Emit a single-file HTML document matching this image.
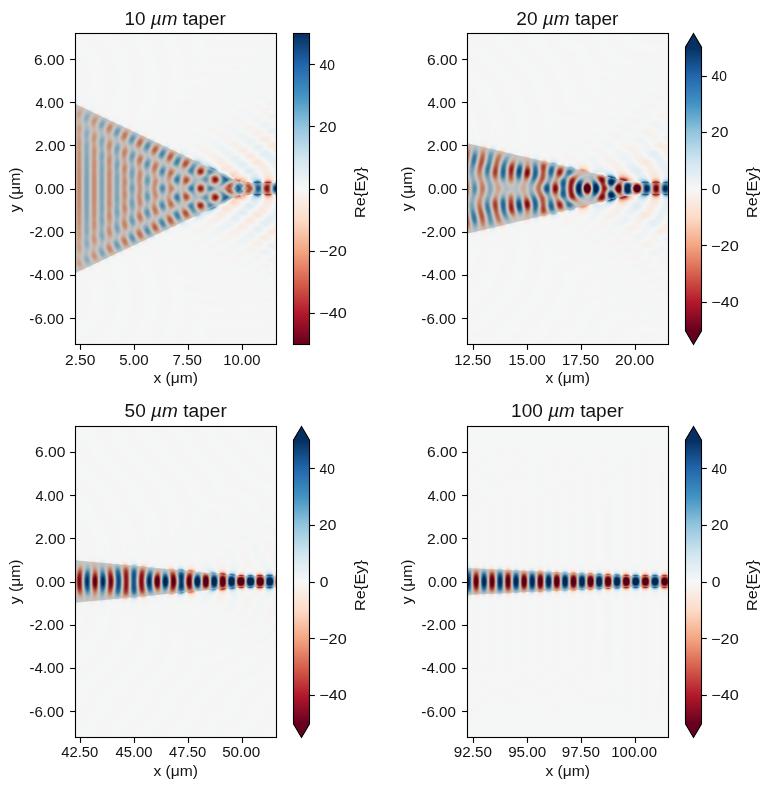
<!DOCTYPE html><html><head><meta charset="utf-8"><title>Taper field plots</title><style>html,body{margin:0;padding:0;background:#fff;}#fig{position:relative;width:769px;height:790px;overflow:hidden;background:#fff}#fig svg,#fig canvas{position:absolute;left:0;top:0}text{font-family:"Liberation Sans",sans-serif;fill:#121212}</style></head><body><div id="fig">
<svg width="769" height="790" viewBox="0 0 769 790"><rect x="75" y="33" width="202" height="312" fill="#f3f5f5"/><polygon points="75.0,103.8 242.0,183.1 277.0,183.1 277.0,193.9 242.0,193.9 75.0,273.2" fill="#b2aba9"/><rect x="467" y="33" width="202" height="312" fill="#f3f5f5"/><polygon points="467.0,143.2 635.0,183.1 669.0,183.1 669.0,193.9 635.0,193.9 467.0,233.8" fill="#9d9498"/><rect x="75" y="426" width="202" height="312" fill="#f3f5f5"/><polygon points="75.0,560.2 242.0,576.1 277.0,576.1 277.0,586.9 242.0,586.9 75.0,602.8" fill="#897b84"/><rect x="467" y="426" width="202" height="312" fill="#f3f5f5"/><polygon points="467.0,568.1 635.0,576.1 669.0,576.1 669.0,586.9 635.0,586.9 467.0,594.9" fill="#7d6d79"/></svg>
<canvas id="f0" width="202" height="312" style="left:75px;top:33px"></canvas>
<canvas id="f1" width="202" height="312" style="left:467px;top:33px"></canvas>
<canvas id="f2" width="202" height="312" style="left:75px;top:426px"></canvas>
<canvas id="f3" width="202" height="312" style="left:467px;top:426px"></canvas>
<svg width="769" height="790" viewBox="0 0 769 790">
<defs><linearGradient id="rdbu" x1="0" y1="1" x2="0" y2="0">
<stop offset="0.000" stop-color="#67001f"/>
<stop offset="0.100" stop-color="#b2182b"/>
<stop offset="0.200" stop-color="#d6604d"/>
<stop offset="0.300" stop-color="#f4a582"/>
<stop offset="0.400" stop-color="#fddbc7"/>
<stop offset="0.500" stop-color="#f7f7f7"/>
<stop offset="0.600" stop-color="#d1e5f0"/>
<stop offset="0.700" stop-color="#92c5de"/>
<stop offset="0.800" stop-color="#4393c3"/>
<stop offset="0.900" stop-color="#2166ac"/>
<stop offset="1.000" stop-color="#053061"/>
</linearGradient></defs>
<g><rect x="75.5" y="33.5" width="201" height="311" fill="none" stroke="#000" stroke-width="1.11"/><line x1="70.14" y1="59.5" x2="75.5" y2="59.5" stroke="#000" stroke-width="1.11"/><line x1="70.14" y1="102.5" x2="75.5" y2="102.5" stroke="#000" stroke-width="1.11"/><line x1="70.14" y1="145.5" x2="75.5" y2="145.5" stroke="#000" stroke-width="1.11"/><line x1="70.14" y1="189.5" x2="75.5" y2="189.5" stroke="#000" stroke-width="1.11"/><line x1="70.14" y1="232.5" x2="75.5" y2="232.5" stroke="#000" stroke-width="1.11"/><line x1="70.14" y1="275.5" x2="75.5" y2="275.5" stroke="#000" stroke-width="1.11"/><line x1="70.14" y1="318.5" x2="75.5" y2="318.5" stroke="#000" stroke-width="1.11"/><line x1="80.5" y1="344.5" x2="80.5" y2="349.86" stroke="#000" stroke-width="1.11"/><line x1="134.5" y1="344.5" x2="134.5" y2="349.86" stroke="#000" stroke-width="1.11"/><line x1="188.5" y1="344.5" x2="188.5" y2="349.86" stroke="#000" stroke-width="1.11"/><line x1="242.5" y1="344.5" x2="242.5" y2="349.86" stroke="#000" stroke-width="1.11"/><rect x="293.5" y="33.5" width="16" height="311" fill="url(#rdbu)"/><rect x="293.5" y="33.5" width="16" height="311" fill="none" stroke="#000" stroke-width="1.11"/><line x1="309.5" y1="64.5" x2="314.86" y2="64.5" stroke="#000" stroke-width="1.11"/><line x1="309.5" y1="126.5" x2="314.86" y2="126.5" stroke="#000" stroke-width="1.11"/><line x1="309.5" y1="189.5" x2="314.86" y2="189.5" stroke="#000" stroke-width="1.11"/><line x1="309.5" y1="251.5" x2="314.86" y2="251.5" stroke="#000" stroke-width="1.11"/><line x1="309.5" y1="313.5" x2="314.86" y2="313.5" stroke="#000" stroke-width="1.11"/></g>
<g><rect x="467.5" y="33.5" width="201" height="311" fill="none" stroke="#000" stroke-width="1.11"/><line x1="462.14" y1="59.5" x2="467.5" y2="59.5" stroke="#000" stroke-width="1.11"/><line x1="462.14" y1="102.5" x2="467.5" y2="102.5" stroke="#000" stroke-width="1.11"/><line x1="462.14" y1="145.5" x2="467.5" y2="145.5" stroke="#000" stroke-width="1.11"/><line x1="462.14" y1="189.5" x2="467.5" y2="189.5" stroke="#000" stroke-width="1.11"/><line x1="462.14" y1="232.5" x2="467.5" y2="232.5" stroke="#000" stroke-width="1.11"/><line x1="462.14" y1="275.5" x2="467.5" y2="275.5" stroke="#000" stroke-width="1.11"/><line x1="462.14" y1="318.5" x2="467.5" y2="318.5" stroke="#000" stroke-width="1.11"/><line x1="473.5" y1="344.5" x2="473.5" y2="349.86" stroke="#000" stroke-width="1.11"/><line x1="527.5" y1="344.5" x2="527.5" y2="349.86" stroke="#000" stroke-width="1.11"/><line x1="581.5" y1="344.5" x2="581.5" y2="349.86" stroke="#000" stroke-width="1.11"/><line x1="635.5" y1="344.5" x2="635.5" y2="349.86" stroke="#000" stroke-width="1.11"/><rect x="685.5" y="47.1" width="16" height="283.80" fill="url(#rdbu)"/><path d="M685.5,49.1 L685.5,47.1 L693.5,33.5 L701.5,47.1 L701.5,49.1 Z" fill="#053061"/><path d="M685.5,328.9 L685.5,330.9 L693.5,344.5 L701.5,330.9 L701.5,328.9 Z" fill="#67001f"/><path d="M685.5,47.1 L693.5,33.5 L701.5,47.1 L701.5,330.9 L693.5,344.5 L685.5,330.9 Z" fill="none" stroke="#000" stroke-width="1.11" stroke-linejoin="miter"/><line x1="701.5" y1="76.5" x2="706.86" y2="76.5" stroke="#000" stroke-width="1.11"/><line x1="701.5" y1="132.5" x2="706.86" y2="132.5" stroke="#000" stroke-width="1.11"/><line x1="701.5" y1="189.5" x2="706.86" y2="189.5" stroke="#000" stroke-width="1.11"/><line x1="701.5" y1="245.5" x2="706.86" y2="245.5" stroke="#000" stroke-width="1.11"/><line x1="701.5" y1="302.5" x2="706.86" y2="302.5" stroke="#000" stroke-width="1.11"/></g>
<g><rect x="75.5" y="426.5" width="201" height="311" fill="none" stroke="#000" stroke-width="1.11"/><line x1="70.14" y1="452.5" x2="75.5" y2="452.5" stroke="#000" stroke-width="1.11"/><line x1="70.14" y1="495.5" x2="75.5" y2="495.5" stroke="#000" stroke-width="1.11"/><line x1="70.14" y1="538.5" x2="75.5" y2="538.5" stroke="#000" stroke-width="1.11"/><line x1="70.14" y1="582.5" x2="75.5" y2="582.5" stroke="#000" stroke-width="1.11"/><line x1="70.14" y1="625.5" x2="75.5" y2="625.5" stroke="#000" stroke-width="1.11"/><line x1="70.14" y1="668.5" x2="75.5" y2="668.5" stroke="#000" stroke-width="1.11"/><line x1="70.14" y1="711.5" x2="75.5" y2="711.5" stroke="#000" stroke-width="1.11"/><line x1="80.5" y1="737.5" x2="80.5" y2="742.86" stroke="#000" stroke-width="1.11"/><line x1="134.5" y1="737.5" x2="134.5" y2="742.86" stroke="#000" stroke-width="1.11"/><line x1="188.5" y1="737.5" x2="188.5" y2="742.86" stroke="#000" stroke-width="1.11"/><line x1="242.5" y1="737.5" x2="242.5" y2="742.86" stroke="#000" stroke-width="1.11"/><rect x="293.5" y="440.1" width="16" height="283.80" fill="url(#rdbu)"/><path d="M293.5,442.1 L293.5,440.1 L301.5,426.5 L309.5,440.1 L309.5,442.1 Z" fill="#053061"/><path d="M293.5,721.9 L293.5,723.9 L301.5,737.5 L309.5,723.9 L309.5,721.9 Z" fill="#67001f"/><path d="M293.5,440.1 L301.5,426.5 L309.5,440.1 L309.5,723.9 L301.5,737.5 L293.5,723.9 Z" fill="none" stroke="#000" stroke-width="1.11" stroke-linejoin="miter"/><line x1="309.5" y1="468.5" x2="314.86" y2="468.5" stroke="#000" stroke-width="1.11"/><line x1="309.5" y1="525.5" x2="314.86" y2="525.5" stroke="#000" stroke-width="1.11"/><line x1="309.5" y1="582.5" x2="314.86" y2="582.5" stroke="#000" stroke-width="1.11"/><line x1="309.5" y1="638.5" x2="314.86" y2="638.5" stroke="#000" stroke-width="1.11"/><line x1="309.5" y1="695.5" x2="314.86" y2="695.5" stroke="#000" stroke-width="1.11"/></g>
<g><rect x="467.5" y="426.5" width="201" height="311" fill="none" stroke="#000" stroke-width="1.11"/><line x1="462.14" y1="452.5" x2="467.5" y2="452.5" stroke="#000" stroke-width="1.11"/><line x1="462.14" y1="495.5" x2="467.5" y2="495.5" stroke="#000" stroke-width="1.11"/><line x1="462.14" y1="538.5" x2="467.5" y2="538.5" stroke="#000" stroke-width="1.11"/><line x1="462.14" y1="582.5" x2="467.5" y2="582.5" stroke="#000" stroke-width="1.11"/><line x1="462.14" y1="625.5" x2="467.5" y2="625.5" stroke="#000" stroke-width="1.11"/><line x1="462.14" y1="668.5" x2="467.5" y2="668.5" stroke="#000" stroke-width="1.11"/><line x1="462.14" y1="711.5" x2="467.5" y2="711.5" stroke="#000" stroke-width="1.11"/><line x1="473.5" y1="737.5" x2="473.5" y2="742.86" stroke="#000" stroke-width="1.11"/><line x1="527.5" y1="737.5" x2="527.5" y2="742.86" stroke="#000" stroke-width="1.11"/><line x1="581.5" y1="737.5" x2="581.5" y2="742.86" stroke="#000" stroke-width="1.11"/><line x1="635.5" y1="737.5" x2="635.5" y2="742.86" stroke="#000" stroke-width="1.11"/><rect x="685.5" y="440.1" width="16" height="283.80" fill="url(#rdbu)"/><path d="M685.5,442.1 L685.5,440.1 L693.5,426.5 L701.5,440.1 L701.5,442.1 Z" fill="#053061"/><path d="M685.5,721.9 L685.5,723.9 L693.5,737.5 L701.5,723.9 L701.5,721.9 Z" fill="#67001f"/><path d="M685.5,440.1 L693.5,426.5 L701.5,440.1 L701.5,723.9 L693.5,737.5 L685.5,723.9 Z" fill="none" stroke="#000" stroke-width="1.11" stroke-linejoin="miter"/><line x1="701.5" y1="468.5" x2="706.86" y2="468.5" stroke="#000" stroke-width="1.11"/><line x1="701.5" y1="525.5" x2="706.86" y2="525.5" stroke="#000" stroke-width="1.11"/><line x1="701.5" y1="582.5" x2="706.86" y2="582.5" stroke="#000" stroke-width="1.11"/><line x1="701.5" y1="638.5" x2="706.86" y2="638.5" stroke="#000" stroke-width="1.11"/><line x1="701.5" y1="695.5" x2="706.86" y2="695.5" stroke="#000" stroke-width="1.11"/></g>
<text transform="translate(65.025,365.150) scale(1.1000,1)" font-size="14.200">2.50</text>
<text transform="translate(119.203,365.002) scale(1.0621,1)" font-size="14.200">5.00</text>
<text transform="translate(172.593,364.974) scale(1.0621,1)" font-size="14.200">7.50</text>
<text transform="translate(223.348,364.963) scale(1.0421,1)" font-size="14.200">10.00</text>
<text transform="translate(29.358,324.037) scale(1.0676,1)" font-size="14.200">-6.00</text>
<text transform="translate(29.417,279.816) scale(1.0676,1)" font-size="14.200">-4.00</text>
<text transform="translate(29.447,237.129) scale(1.0676,1)" font-size="14.200">-2.00</text>
<text transform="translate(34.897,193.997) scale(1.0621,1)" font-size="14.200">0.00</text>
<text transform="translate(35.106,151.136) scale(1.1000,1)" font-size="14.200">2.00</text>
<text transform="translate(35.415,107.802) scale(1.0267,1)" font-size="14.200">4.00</text>
<text transform="translate(34.014,65.048) scale(1.1000,1)" font-size="14.200">6.00</text>
<text transform="translate(124.584,25.277) scale(0.9804,1)" font-size="19.267">10 <tspan font-style="italic">µm</tspan> taper</text>
<text transform="translate(153.419,383.432) scale(1.1000,1)" font-size="14.200">x (μm)</text>
<text transform="translate(20.204,212.170) rotate(-90) scale(1.1051,1)" font-size="14.200">y (μm)</text>
<text transform="translate(319.208,317.819) scale(1.1440,1)" font-size="14.200">−40</text>
<text transform="translate(319.112,256.266) scale(1.1440,1)" font-size="14.200">−20</text>
<text transform="translate(319.847,193.972) scale(1.1000,1)" font-size="14.200">0</text>
<text transform="translate(318.988,132.174) scale(1.1000,1)" font-size="14.200">20</text>
<text transform="translate(319.537,69.652) scale(0.9706,1)" font-size="14.200">40</text>
<text transform="translate(364.611,217.942) rotate(-90) scale(1.1504,1)" font-size="14.200">Re{Ey}</text>
<text transform="translate(454.292,365.067) scale(1.0421,1)" font-size="14.200">12.50</text>
<text transform="translate(508.580,364.963) scale(1.0421,1)" font-size="14.200">15.00</text>
<text transform="translate(562.119,364.944) scale(1.0421,1)" font-size="14.200">17.50</text>
<text transform="translate(615.113,365.104) scale(1.1000,1)" font-size="14.200">20.00</text>
<text transform="translate(421.358,324.037) scale(1.0676,1)" font-size="14.200">-6.00</text>
<text transform="translate(421.417,279.816) scale(1.0676,1)" font-size="14.200">-4.00</text>
<text transform="translate(421.447,237.129) scale(1.0676,1)" font-size="14.200">-2.00</text>
<text transform="translate(427.897,193.997) scale(1.0621,1)" font-size="14.200">0.00</text>
<text transform="translate(427.106,151.136) scale(1.1000,1)" font-size="14.200">2.00</text>
<text transform="translate(427.415,107.802) scale(1.0267,1)" font-size="14.200">4.00</text>
<text transform="translate(427.014,65.048) scale(1.1000,1)" font-size="14.200">6.00</text>
<text transform="translate(516.325,25.400) scale(0.9902,1)" font-size="19.267">20 <tspan font-style="italic">µm</tspan> taper</text>
<text transform="translate(545.419,383.432) scale(1.1000,1)" font-size="14.200">x (μm)</text>
<text transform="translate(412.204,211.170) rotate(-90) scale(1.1051,1)" font-size="14.200">y (μm)</text>
<text transform="translate(711.208,306.819) scale(1.1440,1)" font-size="14.200">−40</text>
<text transform="translate(711.112,251.266) scale(1.1440,1)" font-size="14.200">−20</text>
<text transform="translate(711.847,193.972) scale(1.1000,1)" font-size="14.200">0</text>
<text transform="translate(710.988,137.174) scale(1.1000,1)" font-size="14.200">20</text>
<text transform="translate(711.537,80.652) scale(0.9706,1)" font-size="14.200">40</text>
<text transform="translate(756.611,217.942) rotate(-90) scale(1.1504,1)" font-size="14.200">Re{Ey}</text>
<text transform="translate(61.185,756.944) scale(1.0436,1)" font-size="14.200">42.50</text>
<text transform="translate(115.447,756.847) scale(1.0436,1)" font-size="14.200">45.00</text>
<text transform="translate(169.109,756.808) scale(1.0436,1)" font-size="14.200">47.50</text>
<text transform="translate(222.129,756.999) scale(1.0711,1)" font-size="14.200">50.00</text>
<text transform="translate(29.358,717.037) scale(1.0676,1)" font-size="14.200">-6.00</text>
<text transform="translate(29.417,672.816) scale(1.0676,1)" font-size="14.200">-4.00</text>
<text transform="translate(29.447,630.129) scale(1.0676,1)" font-size="14.200">-2.00</text>
<text transform="translate(35.897,586.997) scale(1.0621,1)" font-size="14.200">0.00</text>
<text transform="translate(35.106,544.136) scale(1.1000,1)" font-size="14.200">2.00</text>
<text transform="translate(35.415,500.802) scale(1.0267,1)" font-size="14.200">4.00</text>
<text transform="translate(35.014,457.048) scale(1.1000,1)" font-size="14.200">6.00</text>
<text transform="translate(124.611,417.372) scale(0.9902,1)" font-size="19.267">50 <tspan font-style="italic">µm</tspan> taper</text>
<text transform="translate(153.419,776.432) scale(1.1000,1)" font-size="14.200">x (μm)</text>
<text transform="translate(20.204,604.170) rotate(-90) scale(1.1051,1)" font-size="14.200">y (μm)</text>
<text transform="translate(319.208,699.819) scale(1.1440,1)" font-size="14.200">−40</text>
<text transform="translate(319.112,644.266) scale(1.1440,1)" font-size="14.200">−20</text>
<text transform="translate(319.847,586.972) scale(1.1000,1)" font-size="14.200">0</text>
<text transform="translate(318.988,530.174) scale(1.1000,1)" font-size="14.200">20</text>
<text transform="translate(319.537,473.652) scale(0.9706,1)" font-size="14.200">40</text>
<text transform="translate(364.611,610.942) rotate(-90) scale(1.1504,1)" font-size="14.200">Re{Ey}</text>
<text transform="translate(453.867,757.001) scale(1.0711,1)" font-size="14.200">92.50</text>
<text transform="translate(508.162,756.900) scale(1.0711,1)" font-size="14.200">95.00</text>
<text transform="translate(561.817,756.878) scale(1.0711,1)" font-size="14.200">97.50</text>
<text transform="translate(611.319,756.955) scale(1.0522,1)" font-size="14.200">100.00</text>
<text transform="translate(421.358,717.037) scale(1.0676,1)" font-size="14.200">-6.00</text>
<text transform="translate(421.417,672.816) scale(1.0676,1)" font-size="14.200">-4.00</text>
<text transform="translate(421.447,630.129) scale(1.0676,1)" font-size="14.200">-2.00</text>
<text transform="translate(427.897,586.997) scale(1.0621,1)" font-size="14.200">0.00</text>
<text transform="translate(427.106,544.136) scale(1.1000,1)" font-size="14.200">2.00</text>
<text transform="translate(427.415,500.802) scale(1.0267,1)" font-size="14.200">4.00</text>
<text transform="translate(427.014,457.048) scale(1.1000,1)" font-size="14.200">6.00</text>
<text transform="translate(511.078,417.309) scale(0.9884,1)" font-size="19.267">100 <tspan font-style="italic">µm</tspan> taper</text>
<text transform="translate(545.419,776.432) scale(1.1000,1)" font-size="14.200">x (μm)</text>
<text transform="translate(412.204,604.170) rotate(-90) scale(1.1051,1)" font-size="14.200">y (μm)</text>
<text transform="translate(711.208,699.819) scale(1.1440,1)" font-size="14.200">−40</text>
<text transform="translate(711.112,644.266) scale(1.1440,1)" font-size="14.200">−20</text>
<text transform="translate(711.847,586.972) scale(1.1000,1)" font-size="14.200">0</text>
<text transform="translate(710.988,530.174) scale(1.1000,1)" font-size="14.200">20</text>
<text transform="translate(711.537,473.652) scale(0.9706,1)" font-size="14.200">40</text>
<text transform="translate(756.611,610.942) rotate(-90) scale(1.1504,1)" font-size="14.200">Re{Ey}</text>
</svg>
</div>
<script>window.FP={"amp": [21, 20, 20, 20], "ph": [0, 1.0, 0.6, 0.76], "gain": [1.9, 1, 1, 1], "gs": [-0.1, 0.3, 0.3, 0.3], "gw": [0.8, 0.6, 0.6, 0.6], "as": [-0.35, 0, 0, 0], "ab": [0, 0, 0, 10], "del": 0.11, "rad": 0.7, "radp": [0.7, 0.5, 0.35, 0.6], "bg": [236, 240, 240], "co": [0, 0, 0], "keep": [1, 1, 0.6, 0.3]};</script><script>(function(){
var RD=[[103,0,31],[178,24,43],[214,96,77],[244,165,130],[253,219,199],[247,247,247],[209,229,240],[146,197,222],[67,147,195],[33,102,172],[5,48,97]];
var NL=1024, LUT=new Float32Array(NL*3);
for(var i=0;i<NL;i++){var t=i/(NL-1)*10,k=Math.min(9,Math.floor(t)),f=t-k;for(var c=0;c<3;c++)LUT[i*3+c]=RD[k][c]*(1-f)+RD[k+1][c]*f;}
var P=window.FP||{};
var lam=P.lam||1.55,k0=2*Math.PI/lam,n1=P.n1||2.2,n2=P.n2||1.0,nref=P.nref||2.0,kref=k0*nref;
var e1=n1*n1,e2=n2*n2;
var PX=21.597, W0=P.W0||10, W1=P.W1||0.5;
var Y=P.Y||11, dy=P.dy||0.03, N=Math.round(2*Y/dy)+1;
var ABD=P.abd||0.1, ABR=P.abr||0.3, BG=P.bg||[255,255,255], CO=P.co||[0,0,0], VMAX=50, ALPHA=P.alpha||0.2, DEL=P.del||0.1, RAD=(P.rad!=null?P.rad:0.5);
function halfw(x,L){ if(x<=0) return W0/2; if(x>=L) return W1/2; return W0/2-(W0-W1)/2*x/L; }
function run(L,xmin,id,amp,ph,gain,gs,gw,abs0,aslope,MODS,radp,keep){
  var cv=document.getElementById(id); if(!cv||!cv.getContext) return;
  var CW=cv.width, CH=cv.height;
  var dx=1/PX/(P.sub||2);
  var Hr=new Float64Array(N),Hi=new Float64Array(N),eps=new Float64Array(N),g=new Float64Array(N),damp=new Float64Array(N);
  var cr=new Float64Array(N),ci=new Float64Array(N),rr=new Float64Array(N),ri=new Float64Array(N);
  var yj=new Float64Array(N); for(var j=0;j<N;j++){yj[j]=-Y+j*dy;}
  var Yabs=Y-2.5;
  for(var j=0;j<N;j++){var ay=Math.abs(yj[j]); damp[j]= ay>Yabs? Math.exp(-dx*3.0*Math.pow((ay-Yabs)/2.5,2)) : 1;}
  // initial TM0 mode of wide guide
  var a=W0/2, V=k0*a*Math.sqrt(e1-e2), rtm=e1/e2;
  var lo=1e-6, hi=Math.min(Math.PI/2-1e-9,V);
  for(var it=0;it<100;it++){var u=(lo+hi)/2,w=Math.sqrt(Math.max(V*V-u*u,0)); if(u*Math.tan(u)-rtm*w>0) hi=u; else lo=u;}
  var u0=(lo+hi)/2, w0=Math.sqrt(V*V-u0*u0);
  for(var j=0;j<N;j++){var ay=Math.abs(yj[j]); Hr[j]= ay<a? Math.cos(u0*ay/a) : Math.cos(u0)*Math.exp(-w0*(ay-a)/a); Hi[j]=0;
    if(ay<a && MODS){ for(var q=0;q<MODS.length;q++){ var mq=MODS[q]; var pr=Math.cos((mq[0]+1)*Math.PI*yj[j]/(2*a)); Hr[j]+=mq[1]*Math.cos(mq[2])*pr; Hi[j]+=mq[1]*Math.sin(mq[2])*pr; } }
  }
  var img=new Float32Array(CW*CH); var psi=new Float64Array(N), CR=new Float64Array(N), CI=new Float64Array(N);
  var colX=new Float64Array(CW); for(var c=0;c<CW;c++) colX[c]=xmin+(c+0.5)/PX;
  var x=P.x0||0, col=0;
  var A=dx/(4*kref), idy2=1/(dy*dy), TH=P.theta||0.53, AR=2*A*(1-TH), AL=2*A*TH;
  var xend=colX[CW-1]+dx;
  function setEps(xx){
    var w=halfw(xx,L);
    for(var j=0;j<N;j++){
      var y0=yj[j]-dy/2,y1=yj[j]+dy/2;
      var ov=Math.max(0,Math.min(y1,w)-Math.max(y0,-w))/dy;
      eps[j]=e2+(e1-e2)*ov;
    }
    for(var j=0;j<N-1;j++) g[j]=0.5*(1/eps[j]+1/eps[j+1]);
    g[N-1]=g[N-2];
  }
  var lowr=new Float64Array(N), upr=new Float64Array(N), dia=new Float64Array(N);
  var k02=k0*k0, nr2=nref*nref;
  while(col<CW){
    // sample if we've reached column center
    while(col<CW && x>=colX[col]-dx/2){
      setEps(x);
      var SR=Hr, SI=Hi;
      if(keep<1){
        var aw=halfw(x,L), Vw=k0*aw*Math.sqrt(e1-e2);
        var lo2=1e-6, hi2b=Math.min(Math.PI/2-1e-9,Vw);
        for(var it2=0;it2<60;it2++){var uu=(lo2+hi2b)/2,ww=Math.sqrt(Math.max(Vw*Vw-uu*uu,0)); if(uu*Math.tan(uu)-rtm*ww>0) hi2b=uu; else lo2=uu;}
        var uq=(lo2+hi2b)/2, wq2=Math.sqrt(Math.max(Vw*Vw-uq*uq,0));
        var pr=0,pi=0,nn=0;
        for(var j=0;j<N;j++){var ay2=Math.abs(yj[j]); var ps= ay2<aw? Math.cos(uq*ay2/aw) : Math.cos(uq)*Math.exp(-wq2*(ay2-aw)/aw); psi[j]=ps; var wt=1/eps[j]; pr+=ps*Hr[j]*wt; pi+=ps*Hi[j]*wt; nn+=ps*ps*wt;}
        pr/=nn; pi/=nn;
        for(var j=0;j<N;j++){var fr=pr*psi[j], fi=pi*psi[j]; CR[j]=fr+keep*(Hr[j]-fr); CI[j]=fi+keep*(Hi[j]-fi);}
        SR=CR; SI=CI;
      }
      for(var r=0;r<CH;r++){
        var y=7.2-(r+0.5)/PX; var fj=(y+Y)/dy; var j0=Math.floor(fj); var f=fj-j0;
        var j1=j0+1; if(j0<0){j0=0;j1=0;} if(j1>=N){j1=N-1;}
        var w=halfw(colX[col],L); var ay=Math.abs(y), d=ay-w;
        var yt=y+0.5/PX, yb=y-0.5/PX;
        var m=Math.max(0,Math.min(yt,w)-Math.max(yb,-w))*PX; if(m>1)m=1;
        var c0=Math.cos(kref*x+ph), s0=Math.sin(kref*x+ph);
        var hr=SR[j0]*(1-f)+SR[j1]*f, hi2=SI[j0]*(1-f)+SI[j1]*f;
        var re=hr*c0-hi2*s0;
        var dd=d>0?d:0; var ee=Math.exp(-dd/DEL);
        var gx=(colX[col]-L+gs)/gw; gx=gx<0?0:(gx>1?1:gx); gx=gx*gx*(3-2*gx); var gg=1+(gain-1)*gx;
        var xr=colX[col]/L; if(xr>1)xr=1; var sl=1+aslope*xr;
        var fac=((m+(1-m)*rtm*ee)*gg+(1-m)*radp*(1-ee))*sl;
        img[r*CW+col]=re*fac;
      }
      col++;
    }
    // step
    var xm=x+dx/2; setEps(xm);
    for(var j=0;j<N;j++){
      var gl= j>0? g[j-1]:g[j], gu=g[j];
      lowr[j]=eps[j]*gl*idy2; upr[j]=eps[j]*gu*idy2; dia[j]=-(lowr[j]+upr[j])+k02*(eps[j]-nr2);
    }
    // RHS: (1 + i A P) H
    for(var j=0;j<N;j++){
      var ph_r=dia[j]*Hr[j], ph_i=dia[j]*Hi[j];
      if(j>0){ph_r+=lowr[j]*Hr[j-1]; ph_i+=lowr[j]*Hi[j-1];}
      if(j<N-1){ph_r+=upr[j]*Hr[j+1]; ph_i+=upr[j]*Hi[j+1];}
      rr[j]=Hr[j]-AR*ph_i; ri[j]=Hi[j]+AR*ph_r;
    }
    // LHS: (1 - i A P) -> lower = -iA*low, diag = 1 - iA*dia, upper = -iA*up
    // Thomas: c'_j = up_j / (diag_j - low_j c'_{j-1}); d'_j = (r_j - low_j d'_{j-1})/(diag_j - low_j c'_{j-1})
    var pcr=0,pci=0,pdr=0,pdi=0;
    for(var j=0;j<N;j++){
      var lr=0, li=-AL*lowr[j]; var dr=1, di=-AL*dia[j]; var ur=0, ui=-AL*upr[j];
      // den = diag - low*c'prev
      var lcr=lr*pcr-li*pci, lci=lr*pci+li*pcr;
      var denr=dr-lcr, deni=di-lci; var dd=denr*denr+deni*deni;
      // c' = up/den
      var ncr=(ur*denr+ui*deni)/dd, nci=(ui*denr-ur*deni)/dd;
      // d' = (r - low*d'prev)/den
      var ldr=lr*pdr-li*pdi, ldi=lr*pdi+li*pdr;
      var nr=rr[j]-ldr, ni=ri[j]-ldi;
      var ndr=(nr*denr+ni*deni)/dd, ndi=(ni*denr-nr*deni)/dd;
      cr[j]=ncr; ci[j]=nci; rr[j]=ndr; ri[j]=ndi;
      pcr=ncr;pci=nci;pdr=ndr;pdi=ndi;
    }
    Hr[N-1]=rr[N-1]; Hi[N-1]=ri[N-1];
    for(var j=N-2;j>=0;j--){
      var tr=cr[j]*Hr[j+1]-ci[j]*Hi[j+1], ti=cr[j]*Hi[j+1]+ci[j]*Hr[j+1];
      Hr[j]=rr[j]-tr; Hi[j]=ri[j]-ti;
    }
    if(abs0>0){ var wq=halfw(x,L);
      for(var j=0;j<N;j++){var tq=(Math.abs(yj[j])-wq-ABD)/ABR; if(tq>0){ if(tq>1)tq=1; tq=tq*tq*(3-2*tq); var dq=Math.exp(-abs0*tq*dx); Hr[j]*=dq; Hi[j]*=dq; }}
    }
    for(var j=0;j<N;j++){Hr[j]*=damp[j];Hi[j]*=damp[j];}
    x+=dx;
  }
  // draw
  var ctx=cv.getContext('2d'); var id2=ctx.createImageData(CW,CH); var D=id2.data;
  for(var r=0;r<CH;r++){
    var y=7.2-(r+0.5)/PX, yt=y+0.5/PX, yb=y-0.5/PX;
    for(var c=0;c<CW;c++){
      var v=img[r*CW+c]*amp; var t=(v/VMAX+1)/2; if(t<0)t=0; if(t>1)t=1;
      var li=Math.round(t*(NL-1))*3;
      var w=halfw(colX[c],L); var m=Math.max(0,Math.min(yt,w)-Math.max(yb,-w))*PX;
      var o=(r*CW+c)*4;
      D[o]=LUT[li]*(1-ALPHA)+ALPHA*(BG[0]*(1-m)+CO[0]*m); D[o+1]=LUT[li+1]*(1-ALPHA)+ALPHA*(BG[1]*(1-m)+CO[1]*m); D[o+2]=LUT[li+2]*(1-ALPHA)+ALPHA*(BG[2]*(1-m)+CO[2]*m); D[o+3]=255;
    }
  }
  ctx.putImageData(id2,0,0);
}
var A0=P.amp||[20,20,20,20], PH=P.ph||[0,0,0,0], G=P.gain||[1,1,1,1], GS=P.gs||[0.3,0.3,0.3,0.3], GW=P.gw||[0.6,0.6,0.6,0.6];
var XM=[2.268,12.222,42.268,92.222], LL=[10,20,50,100];
var AB=P.ab||[0,0,0,0];
var AS=P.as||[0,0,0,0];
var MD=P.mods||[null,null,null,null];
var RP=P.radp||[RAD,RAD,RAD,RAD];
var KP=P.keep||[1,1,1,1];
for(var p=0;p<4;p++) run(LL[p],XM[p],'f'+p,A0[p],PH[p],G[p],GS[p],GW[p],AB[p],AS[p],MD[p],RP[p],KP[p]);
})();
</script>
</body></html>
